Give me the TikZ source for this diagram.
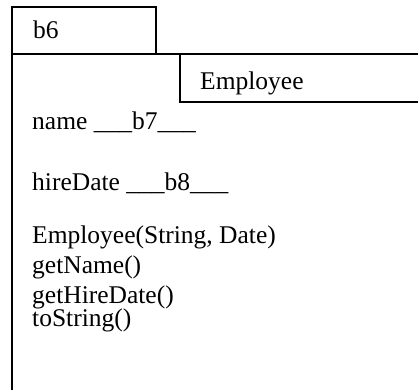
\documentclass[tikz,border=0pt]{standalone}
\usepackage{fontspec}
\setmainfont{Liberation Serif}
\usetikzlibrary{positioning}
\tikzset{
	boxline/.style={line width=1.6pt, line cap=rect},
	member/.style={anchor=base west, inner sep=0pt, font=\fontsize{25.5}{30}\selectfont}
}

\begin{document}
\begin{tikzpicture}[x=1pt, y=-1pt]
				\useasboundingbox (0,0) rectangle (418,389);
				\clip (0,0) rectangle (418,389);
			
				\draw[boxline] (12,54) rectangle (156,7); % name tab
				\draw[boxline] (12,389) -- (12,54) -- (418,54); % class box
				\draw[boxline] (418,102) -- (180,102) -- (180,54); % stereotype box
			
				\node[member] (tab) at (33,38) {b6};
				\node[member] (cls) at (200,89) {Employee};
				\node[member] (fname) at (32,129) {name \_\_\_b7\_\_\_};
				\node[member] (fdate) at (32,190) {hireDate \_\_\_b8\_\_\_};
				\node[member] (ctor) at (32,243) {Employee(String, Date)};
				\node[member] (mname) at (32,273) {getName()};
				\node[member] (mdate) at (32,303) {getHireDate()};
				\node[member] (mstr) at (32,326) {toString()};
			
			\end{tikzpicture}
\end{document}
